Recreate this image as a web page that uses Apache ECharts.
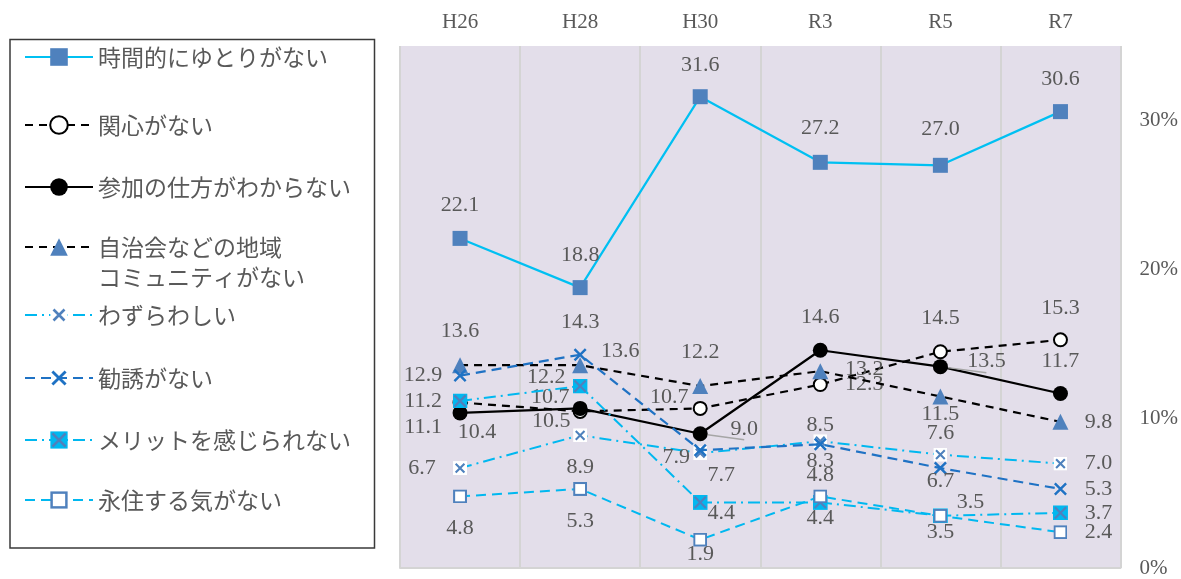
<!DOCTYPE html>
<html><head><meta charset="utf-8">
<script src="https://cdn.jsdelivr.net/npm/echarts@6/dist/echarts.min.js"></script>
<style>html,body{margin:0;padding:0;background:#fff}#c{width:1181px;height:579px}</style>
</head><body><div id="c"></div>
<script>
// ---- data ----
const categories = ['H26','H28','H30','R3','R5','R7'];
const yTicks = [0, 10, 20, 30];
const names = ['時間的にゆとりがない','関心がない','参加の仕方がわからない','自治会などの地域コミュニティがない','わずらわしい','勧誘がない','メリットを感じられない','永住する気がない'];
const jikan        = [22.1, 18.8, 31.6, 27.2, 27.0, 30.6];
const kanshin      = [11.1, 10.5, 10.7, 12.3, 14.5, 15.3];
const sanka        = [10.4, 10.7,  9.0, 14.6, 13.5, 11.7];
const jichikai     = [13.6, 13.6, 12.2, 13.2, 11.5,  9.8];
const wazurawashii = [ 6.7,  8.9,  7.7,  8.5,  7.6,  7.0];
const kanyuu       = [12.9, 14.3,  7.9,  8.3,  6.7,  5.3];
const merit        = [11.2, 12.2,  4.4,  4.4,  3.5,  3.7];
const eijuu        = [ 4.8,  5.3,  1.9,  4.8,  3.5,  2.4];

// ---- label placement (style, px offsets from marker centre) ----
const offs = [
  [[0,-33],[0,-32],[0,-31],[0,-34],[0,-36],[0,-32]],
  [[-37,25],[-29,10],[-31,-11],[44,0],[0,-34],[0,-32]],
  [[17,19],[-30,-11],[44,-5],[0,-33],[46,-5],[0,-32]],
  [[0,-34],[40,-14],[0,-34],[44,-2],[0,18],[38,0]],
  [[-38,0],[0,32],[21,22],[0,-16],[0,-21],[38,0]],
  [[-37,0],[0,-33],[-24,7],[0,17],[0,13],[38,0]],
  [[-37,0],[-34,-9],[21,11],[0,16],[30,-14],[38,0]],
  [[0,32],[0,32],[0,15],[0,-21],[0,16],[38,0]]
];
const leader = {'2-2':true, '2-4':true};

function svg(s){return 'image://data:image/svg+xml;charset=utf-8,'+encodeURIComponent(s);}
const symWaz = svg('<svg xmlns="http://www.w3.org/2000/svg" width="16" height="16"><rect x="0" y="0" width="16" height="16" fill="#ffffff"/><path d="M3 3L13 13M13 3L3 13" stroke="#4F81BD" stroke-width="2.4"/></svg>');
const symKan = svg('<svg xmlns="http://www.w3.org/2000/svg" width="16" height="16"><path d="M2 2L14 14M14 2L2 14" stroke="#1F72C4" stroke-width="2.6"/></svg>');
const symMer = svg('<svg xmlns="http://www.w3.org/2000/svg" width="16" height="16"><rect x="0" y="0" width="16" height="16" fill="#00B8F0"/><path d="M2 2L14 14M14 2L2 14" stroke="#4F81BD" stroke-width="2.4"/></svg>');
const symEij = svg('<svg xmlns="http://www.w3.org/2000/svg" width="16" height="16"><rect x="1.2" y="1.2" width="13.6" height="13.6" fill="#ffffff" stroke="#4F81BD" stroke-width="2.4"/></svg>');

const valueFont = {fontFamily:"'Liberation Serif', serif", fontSize:22, color:'#595959'};

function mk(i, vals, color, type, width, symbol, size, itemStyle){
  return {
    name: names[i], type:'line', data: vals.map((v,k)=>({value:v,
      label:{show:true, position:'inside', offset:offs[i][k], formatter: v.toFixed(1), ...valueFont},
      labelLine: leader[i+'-'+k] ? {show:true, lineStyle:{color:'#A6A6A6', width:1.5}} : {show:false}
    })),
    symbol, symbolSize:size, showAllSymbol:true,
    lineStyle:{color, type, width},
    itemStyle, z: 2+i
  };
}
const series = [
  mk(0, jikan, '#00C0F2', 'solid', 2.2, 'rect', 15, {color:'#4F81BD'}),
  mk(1, kanshin, '#000000', [8,6], 2.2, 'circle', 13, {color:'#ffffff', borderColor:'#000', borderWidth:2}),
  mk(2, sanka, '#000000', 'solid', 2.2, 'circle', 15, {color:'#000000'}),
  mk(3, jichikai, '#000000', [8,6], 2.2, 'triangle', 16, {color:'#4F81BD'}),
  mk(4, wazurawashii, '#00B8F0', [12,5,2,5], 2, symWaz, 14, {color:'#4F81BD'}),
  mk(5, kanyuu, '#1F72C4', [10,6], 2.2, symKan, 15, {color:'#1F72C4'}),
  mk(6, merit, '#00B8F0', [12,5,2,5], 2, symMer, 15, {color:'#00B8F0'}),
  mk(7, eijuu, '#00B8F0', [10,6], 2, symEij, 14, {color:'#4F81BD'})
];

const legendCenters = [57, 125, 187, 247, 315, 378, 440, 500];
const legends = names.map((n,i)=>({
  data:[n], orient:'vertical', left:24, top: i===3 ? legendCenters[i]-45 : legendCenters[i]-15,
  padding:0, itemWidth:68, itemHeight:22, itemGap:0, selectedMode:false,
  formatter: (nm)=> nm==='自治会などの地域コミュニティがない' ? ' \n自治会などの地域\nコミュニティがない' : nm,
  textStyle:{fontFamily:"'Noto Sans CJK JP', sans-serif", fontSize:23, color:'#595959', lineHeight:30}
}));

const chart = echarts.init(document.getElementById('c'), null, {renderer:'canvas'});
chart.setOption({
  animation:false,
  backgroundColor:'#ffffff',
  grid:{left:400, top:46, right:58, bottom:11, show:true, backgroundColor:'#E3DEEA', borderWidth:0},
  legend: legends,
  graphic:[{type:'rect', shape:{x:10, y:39.5, width:364.5, height:508.5}, style:{fill:'none', stroke:'#3a3a3a', lineWidth:1.5}, z:0}],
  xAxis:[{
    type:'category', data:categories, position:'top', boundaryGap:true,
    axisLine:{show:false}, axisTick:{show:false},
    axisLabel:{margin:13, fontFamily:"'Liberation Serif', serif", fontSize:21, color:'#595959'},
    splitLine:{show:true, lineStyle:{color:'#D4D4D4', width:2}}
  },{
    type:'category', data:categories, position:'bottom',
    axisLine:{show:true, lineStyle:{color:'#D4D4D4', width:2}}, axisTick:{show:false}, axisLabel:{show:false}
  }],
  yAxis:{
    type:'value', position:'right', min:yTicks[0], max:35, interval:10,
    axisLine:{show:false}, axisTick:{show:false}, splitLine:{show:false},
    axisLabel:{margin:19, showMaxLabel:false, formatter:(v)=> yTicks.includes(v) ? v+'%' : '',
      fontFamily:"'Liberation Serif', serif", fontSize:21, color:'#595959'}
  },
  series
});
</script></body></html>
